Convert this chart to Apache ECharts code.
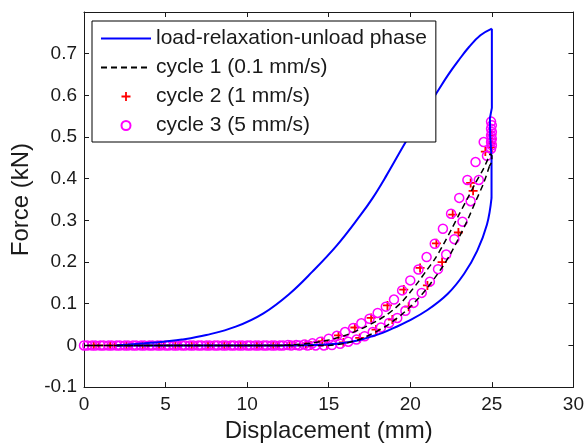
<!DOCTYPE html>
<html>
<head>
<meta charset="utf-8">
<script src="https://cdn.jsdelivr.net/npm/echarts@6/dist/echarts.min.js"></script>
<style>
  html, body { margin: 0; padding: 0; background: #fff; }
  #main { width: 587px; height: 448px; }
</style>
</head>
<body>
<div id="main"></div>
<script>
// axis ticks
const xTicks = { min: 0, max: 30, interval: 5 }
const yTicks = { min: -0.1, max: 0.8, interval: 0.1 }

// load-relaxation-unload phase (blue)
const blueLoad = [[2, 0], [3.7, 0.005], [5, 0.0095], [6, 0.014], [7.5, 0.025], [9.3, 0.045], [11, 0.077], [12.6, 0.124], [14, 0.177], [15.5, 0.24], [16.9, 0.31], [17.7, 0.354], [18.5, 0.405], [19.9, 0.5], [20.8, 0.555], [21.6, 0.605], [22.3, 0.648], [23, 0.686], [23.6, 0.716], [24.3, 0.744], [25, 0.76]]
const blueRelax = [[25, 0.76], [25, 0.57], [24.88, 0.545], [24.9, 0.5], [24.98, 0.45], [24.98, 0.354]]
const blueUnload = [[24.98, 0.354], [24.7, 0.29], [24.1, 0.227], [23.3, 0.172], [22.3, 0.124], [21.05, 0.085], [19.8, 0.057], [19, 0.042], [18.3, 0.03], [17.5, 0.02], [16.7, 0.011], [15.5, 0.004], [14, 0.001], [12, 0], [2, 0]]

// cycle 1 (0.1 mm/s), dashed black
const c1Load = [[0, 0], [12, 0], [13, 0.002], [14, 0.006], [15, 0.013], [16, 0.024], [17, 0.04], [18, 0.06], [18.5, 0.072], [19, 0.087], [19.5, 0.105], [20, 0.128], [20.5, 0.153], [21, 0.18], [21.5, 0.207], [22, 0.24], [22.5, 0.277], [23, 0.315], [23.5, 0.352], [24, 0.39], [24.5, 0.425], [24.9, 0.46]]
const c1Relax = [[24.9, 0.46], [25, 0.455], [25, 0.44], [24.85, 0.43]]
const c1Unload = [[24.85, 0.43], [24.5, 0.39], [24, 0.345], [23.5, 0.3], [23, 0.26], [22.5, 0.222], [22, 0.19], [21.5, 0.162], [21, 0.136], [20.5, 0.113], [20, 0.093], [19.5, 0.075], [19, 0.06], [18.5, 0.046], [18, 0.035], [17.5, 0.025], [17, 0.016], [16.5, 0.01], [16, 0.005], [15.5, 0.002], [15, 0], [0, 0]]

// cycle 2 (1 mm/s), red +
const c2Load = [[0.6, 0], [1.6, 0], [2.6, 0], [3.6, 0], [4.6, 0], [5.6, 0], [6.6, 0], [7.6, 0], [8.6, 0], [9.6, 0], [10.6, 0], [11.6, 0], [12.6, 0.001], [13.6, 0.003], [14.6, 0.01], [15.6, 0.024], [16.6, 0.043], [17.6, 0.066], [18.6, 0.096], [19.6, 0.134], [20.6, 0.186], [21.6, 0.245], [22.6, 0.314], [23.7, 0.39], [24.6, 0.465]]
const c2Relax = [[25, 0.505], [25, 0.495], [25, 0.485], [25, 0.475]]
const c2Unload = [[23.85, 0.371], [22.95, 0.271], [21.95, 0.2], [21.05, 0.144], [19.9, 0.093], [18.9, 0.062], [17.9, 0.038], [16.9, 0.018], [15.9, 0.007], [14.9, 0.001], [13.9, 0], [12.9, 0], [11.9, 0], [10.9, 0], [9.9, 0], [8.9, 0], [7.9, 0], [6.9, 0], [5.9, 0], [4.9, 0], [3.9, 0], [2.9, 0], [1.9, 0], [0.9, 0]]

// cycle 3 (5 mm/s), magenta circles
const c3Load = [[0, 0], [0.5, 0], [1, 0], [1.5, 0], [2, 0], [2.5, 0], [3, 0], [3.5, 0], [4, 0], [4.5, 0], [5, 0], [5.5, 0], [6, 0], [6.5, 0], [7, 0], [7.5, 0], [8, 0], [8.5, 0], [9, 0], [9.5, 0], [10, 0], [10.5, 0], [11, 0], [11.5, 0], [12, 0], [12.5, 0.001], [13, 0.001], [13.5, 0.002], [14, 0.005], [14.5, 0.009], [15, 0.016], [15.5, 0.023], [16, 0.032], [16.5, 0.042], [17, 0.053], [17.5, 0.064], [18, 0.078], [18.5, 0.093], [19, 0.11], [19.5, 0.132], [20, 0.156], [20.5, 0.182], [21, 0.212], [21.5, 0.244], [22, 0.28], [22.5, 0.316], [23, 0.354], [23.5, 0.397], [24, 0.44], [24.5, 0.488]]
const c3Relax = [[24.95, 0.537], [25, 0.528], [24.95, 0.52], [25, 0.512], [24.95, 0.504], [25, 0.496], [24.95, 0.488], [25, 0.48], [24.95, 0.472]]
const c3Unload = [[24.7, 0.455], [24.2, 0.397], [23.7, 0.346], [23.2, 0.297], [22.7, 0.255], [22.2, 0.218], [21.7, 0.183], [21.2, 0.153], [20.7, 0.126], [20.2, 0.102], [19.7, 0.083], [19.2, 0.066], [18.7, 0.054], [18.2, 0.043], [17.7, 0.032], [17.2, 0.022], [16.7, 0.014], [16.2, 0.009], [15.7, 0.004], [15.2, 0.001], [14.7, 0], [14.2, 0], [13.7, 0], [13.2, 0], [12.7, 0], [12.2, 0], [11.7, 0], [11.2, 0], [10.7, 0], [10.2, 0], [9.7, 0], [9.2, 0], [8.7, 0], [8.2, 0], [7.7, 0], [7.2, 0], [6.7, 0], [6.2, 0], [5.7, 0], [5.2, 0], [4.7, 0], [4.2, 0], [3.7, 0], [3.2, 0], [2.7, 0], [2.2, 0], [1.7, 0], [1.2, 0], [0.7, 0], [0.2, 0]]

const names = ['load-relaxation-unload phase', 'cycle 1 (0.1 mm/s)', 'cycle 2 (1 mm/s)', 'cycle 3 (5 mm/s)']

const font = 'Liberation Sans, Arial, sans-serif'
const ink = '#1a1a1a'
const blue = '#0000ff'
const plus = 'path://M4,0h2v4h4v2h-4v4h-2v-4h-4v-2h4z'

var myChart = echarts.init(document.getElementById('main'))

function axisCommon (t) {
  return {
    type: 'value',
    min: t.min,
    max: t.max,
    interval: t.interval,
    axisLine: { show: true, onZero: false, lineStyle: { color: ink, width: 1 } },
    axisTick: { show: true, inside: true, length: 5, lineStyle: { color: ink } },
    splitLine: { show: false }
  }
}

function curve (name, data, lineStyle, smooth) {
  return {
    name: name,
    type: 'line',
    symbol: 'none',
    smooth: smooth,
    lineStyle: lineStyle,
    itemStyle: { color: lineStyle.color },
    data: data
  }
}

const blueLine = { color: blue, width: 2 }
const dashLine = { color: '#000', width: 1.5, type: [6, 4] }

var option = {
  animation: false,
  backgroundColor: '#fff',
  textStyle: { fontFamily: font },
  grid: { left: 84, right: 12, top: 12, bottom: 56, containLabel: false },
  legend: {
    orient: 'vertical',
    left: 92,
    top: 21,
    data: [
      { name: names[0], itemStyle: { opacity: 0 } },
      { name: names[1], itemStyle: { opacity: 0 } },
      { name: names[2] },
      { name: names[3] }
    ],
    selectedMode: false,
    backgroundColor: '#fff',
    borderColor: '#000',
    borderWidth: 1,
    borderRadius: 0,
    padding: [7, 9, 6, 8],
    itemWidth: 50,
    itemHeight: 9,
    itemGap: 8,
    textStyle: { fontFamily: font, fontSize: 21, lineHeight: 20, color: ink }
  },
  xAxis: [
    Object.assign(axisCommon(xTicks), {
      position: 'bottom',
      name: 'Displacement (mm)',
      nameLocation: 'middle',
      nameGap: 28,
      nameTextStyle: { fontFamily: font, fontSize: 24, color: ink },
      axisLabel: { show: true, margin: 8, fontFamily: font, fontSize: 19, color: ink }
    }),
    Object.assign(axisCommon(xTicks), {
      position: 'top',
      axisLabel: { show: false }
    })
  ],
  yAxis: [
    Object.assign(axisCommon(yTicks), {
      position: 'left',
      name: 'Force (kN)',
      nameLocation: 'middle',
      nameGap: 50,
      nameTextStyle: { fontFamily: font, fontSize: 24, color: ink },
      axisLabel: { show: true, margin: 7, fontFamily: font, fontSize: 19, color: ink, showMaxLabel: false }
    }),
    Object.assign(axisCommon(yTicks), {
      position: 'right',
      axisLabel: { show: false }
    })
  ],
  series: [
    curve(names[0], blueLoad, blueLine, 0.4),
    curve(names[0], blueRelax, blueLine, false),
    curve(names[0], blueUnload, blueLine, 0.4),
    curve(names[1], c1Load, dashLine, 0.3),
    curve(names[1], c1Relax, dashLine, false),
    curve(names[1], c1Unload, dashLine, 0.3),
    {
      name: names[2],
      type: 'scatter',
      symbol: plus,
      symbolSize: 9,
      itemStyle: { color: '#ff0000', opacity: 1 },
      data: c2Load.concat(c2Relax, c2Unload)
    },
    {
      name: names[3],
      type: 'scatter',
      symbol: 'circle',
      symbolSize: 9,
      itemStyle: { color: 'rgba(0,0,0,0)', borderColor: '#ff00ff', borderWidth: 1.5, opacity: 1 },
      data: c3Load.concat(c3Relax, c3Unload)
    }
  ]
}

myChart.setOption(option)
</script>
</body>
</html>
